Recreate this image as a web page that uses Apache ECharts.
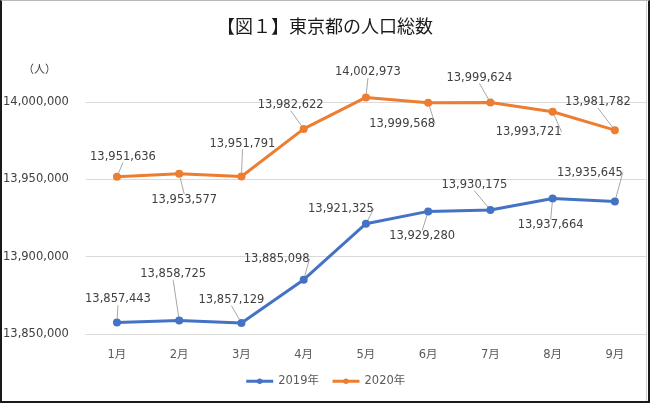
<!DOCTYPE html>
<html>
<head>
<meta charset="utf-8">
<script src="https://cdn.jsdelivr.net/npm/echarts@6/dist/echarts.min.js"></script>
<style>
html,body{margin:0;padding:0;background:#fff;}
#wrap{position:relative;width:650px;height:403px;overflow:hidden;}
#chart{position:absolute;left:0;top:0;width:650px;height:403px;}
#frame{position:absolute;left:0;top:0;width:650px;height:403px;box-sizing:border-box;
  border-top:1px solid #b8b8b8;border-left:2px solid #1a1a1a;border-right:2px solid #1a1a1a;border-bottom:2px solid #1a1a1a;pointer-events:none;}
#frame2{position:absolute;left:646px;top:0;width:1px;height:403px;background:#d0d0d0;pointer-events:none;}
</style>
</head>
<body>
<div id="wrap"><div id="chart"></div><div id="frame2"></div><div id="frame"></div></div>
<script>
const categories = ['1月','2月','3月','4月','5月','6月','7月','8月','9月'];
const seriesNames = ['2019年','2020年'];
const values2019 = [13857443, 13858725, 13857129, 13885098, 13921325, 13929280, 13930175, 13937664, 13935645];
const values2020 = [13951636, 13953577, 13951791, 13982622, 14002973, 13999568, 13999624, 13993721, 13981782];
const yMin = 13850000, yMax = 14000000, yStep = 50000;

// label offsets (pixels, relative to point)
const labelOffsets = [
  [[1,-23],[-6,-46],[-10,-23],[-27,-21],[-25,-15],[-6,25],[-16,-25],[-2,27],[-25,-29]],
  [[6,-20],[5,26],[1,-33],[-13,-24],[2,-25],[-26,21],[-11,-25],[-24,20],[-17,-28]]
];

const fmt = v => v.toLocaleString('en-US');
const FONT = '"DejaVu Sans", "Noto Sans CJK JP", sans-serif';
const colors = ['#4472C4', '#ED7D31'];

const chart = echarts.init(document.getElementById('chart'), null, {renderer:'canvas'});
function mkSeries(name, data, idx){
  return {
    name: name, type: 'line', data: data, clip: false,
    symbol: 'circle', symbolSize: 8,
    itemStyle: {color: colors[idx]},
    lineStyle: {width: 3, color: colors[idx]},
    label: {show: true, position: 'inside', formatter: p => fmt(p.value),
      color: '#404040', fontSize: 11.5, fontFamily: FONT},
    labelLine: {show: true, lineStyle: {color: '#a6a6a6', width: 1}},
    labelLayout: function(p){
      const o = labelOffsets[p.seriesIndex][p.dataIndex];
      return {dx: o[0], dy: o[1]};
    },
    emphasis: {disabled: true},
    animation: false
  };
}
chart.setOption({
  animation: false,
  title: {text: '【図１】東京都の人口総数', left: 'center', top: 12,
    textStyle: {fontSize: 18, fontWeight: 'normal', color: '#1a1a1a', fontFamily: '"Noto Sans CJK JP", sans-serif'}},
  graphic: [{type: 'text', left: 23, top: 63, style: {text: '（人）', fontSize: 11, fill: '#404040', fontFamily: '"Noto Sans CJK JP", sans-serif'}}],
  legend: {bottom: 11, left: 'center', itemWidth: 27, itemHeight: 7, itemGap: 12,
    lineStyle: {width: 3},
    textStyle: {fontSize: 11.5, color: '#595959', fontFamily: FONT},
    data: seriesNames},
  grid: {left: 85, right: 4, top: 102, bottom: 69, containLabel: false},
  xAxis: {type: 'category', data: categories, boundaryGap: true,
    axisLine: {show: true, lineStyle: {color: '#d9d9d9'}}, axisTick: {show: false},
    axisLabel: {color: '#595959', fontSize: 11.5, margin: 15, fontFamily: FONT}},
  yAxis: {type: 'value', min: yMin, max: yMax, interval: yStep,
    axisLine: {show: false}, axisTick: {show: false},
    splitLine: {lineStyle: {color: '#d9d9d9', width: 1}},
    axisLabel: {color: '#404040', fontSize: 11.5, margin: 17, fontFamily: FONT, formatter: v => fmt(v)}},
  series: [mkSeries(seriesNames[0], values2019, 0), mkSeries(seriesNames[1], values2020, 1)]
});
</script>
</body>
</html>
